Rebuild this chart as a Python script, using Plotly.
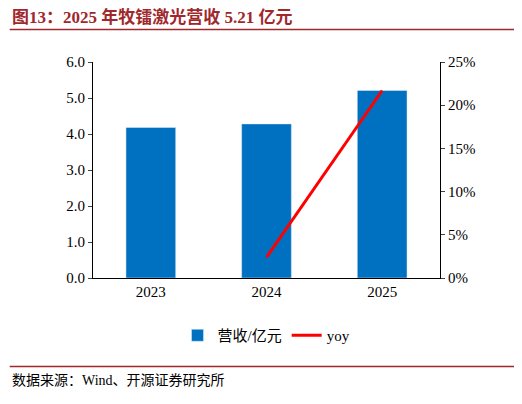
import plotly.graph_objects as go

years = ["2023", "2024", "2025"]
revenue = [4.18, 4.28, 5.21]
yoy_years = ["2024", "2025"]
yoy = [2.4, 21.7]

fig = go.Figure()
fig.add_bar(x=years, y=revenue, name="营收/亿元", marker_color="#0070C0", width=0.43)
fig.add_scatter(x=yoy_years, y=yoy, name="yoy", yaxis="y2", mode="lines",
                line=dict(color="#FF0000", width=3))

font = "Liberation Serif, Noto Sans CJK SC"
fig.update_layout(
    width=522, height=404, plot_bgcolor="white", paper_bgcolor="white",
    margin=dict(l=85, r=90, t=54, b=134),
    font=dict(family=font, size=15, color="black"),
    showlegend=True,
    legend=dict(orientation="h", x=0.5, xanchor="center", y=-0.19, yanchor="top",
                font=dict(size=15)),
    xaxis=dict(showline=True, linecolor="black", ticks="", showgrid=False),
    yaxis=dict(range=[0, 6], dtick=1, tickformat=".1f", showline=True, linecolor="black",
               ticks="outside", ticklen=4, showgrid=False, zeroline=False),
    yaxis2=dict(range=[0, 25], dtick=5, ticksuffix="%", overlaying="y", side="right",
                showline=True, linecolor="black", ticks="outside", ticklen=4,
                showgrid=False, zeroline=False),
    annotations=[
        dict(text="<b>图13：2025 年牧镭激光营收 5.21 亿元</b>", xref="paper", yref="paper",
             x=-0.24, y=1.155, xanchor="left", yanchor="bottom", showarrow=False,
             font=dict(size=17, color="#A0282D", family=font)),
        dict(text="数据来源：Wind、开源证券研究所", xref="paper", yref="paper",
             x=-0.24, y=-0.43, xanchor="left", yanchor="top", showarrow=False,
             font=dict(size=14, family=font)),
    ],
    shapes=[
        dict(type="line", xref="paper", yref="paper", x0=-0.24, x1=1.27, y0=1.15, y1=1.15,
             line=dict(color="#A0282D", width=1.5)),
        dict(type="line", xref="paper", yref="paper", x0=-0.24, x1=1.27, y0=-0.41, y1=-0.41,
             line=dict(color="#A0282D", width=1.5)),
    ],
)
fig.write_html("out.html")
